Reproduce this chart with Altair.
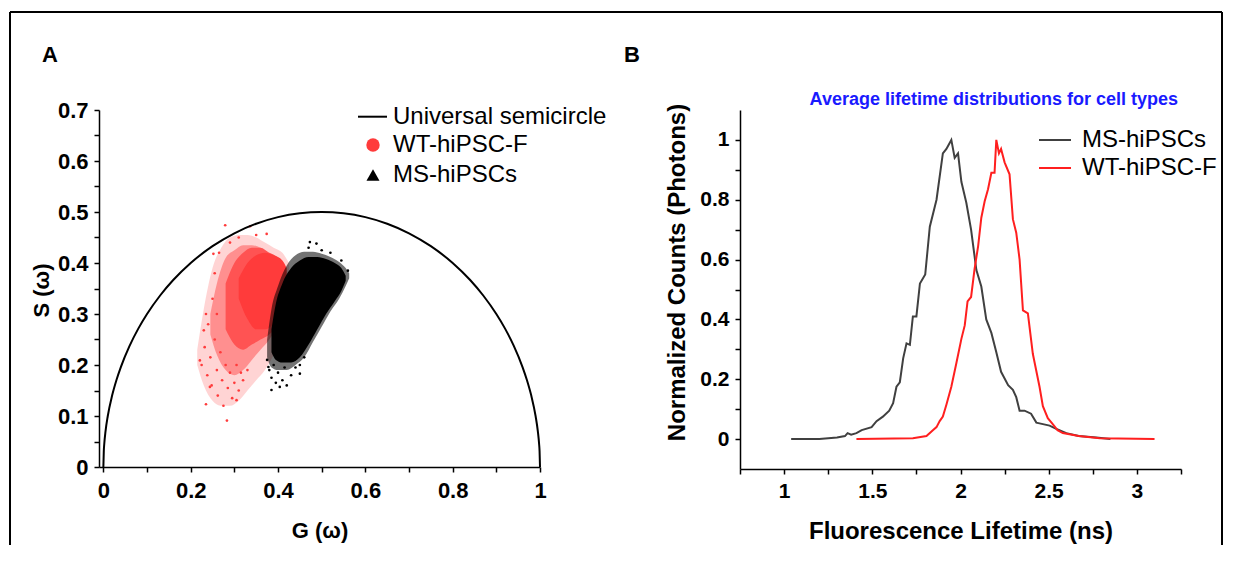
import altair as alt
import pandas as pd

FONT = "Liberation Sans, Arial, Helvetica, sans-serif"

# ---------------- Panel A: phasor plot ----------------
SEMI_G = [0.0, 0.001, 0.002, 0.005, 0.01, 0.02, 0.03, 0.04, 0.06, 0.08, 0.10, 0.13, 0.16, 0.20, 0.25, 0.30, 0.35, 0.40, 0.45, 0.50,
          0.55, 0.60, 0.65, 0.70, 0.75, 0.80, 0.84, 0.87, 0.90, 0.92, 0.94, 0.96, 0.97, 0.98, 0.99, 0.995, 0.998, 0.999, 1.0]
SEMI_S = [0.0, 0.0316, 0.0447, 0.0705, 0.0995, 0.1400, 0.1706, 0.1960, 0.2375, 0.2713, 0.3000, 0.3363, 0.3666, 0.4000, 0.4330, 0.4583, 0.4770, 0.4899, 0.4975, 0.5000,
          0.4975, 0.4899, 0.4770, 0.4583, 0.4330, 0.4000, 0.3666, 0.3363, 0.3000, 0.2713, 0.2375, 0.1960, 0.1706, 0.1400, 0.0995, 0.0705, 0.0447, 0.0316, 0.0]

# WT-hiPSC-F cloud (red): density levels from sparse to dense (G, S-low, S-high)
RED_L1_G = [0.215, 0.23, 0.25, 0.27, 0.29, 0.31, 0.33, 0.35, 0.37, 0.39, 0.41, 0.425]
RED_L1_LO = [0.20, 0.16, 0.13, 0.12, 0.12, 0.13, 0.15, 0.17, 0.19, 0.22, 0.26, 0.30]
RED_L1_HI = [0.23, 0.31, 0.39, 0.43, 0.45, 0.455, 0.455, 0.45, 0.44, 0.43, 0.42, 0.40]

RED_L2_G = [0.245, 0.26, 0.28, 0.30, 0.32, 0.34, 0.36, 0.38, 0.40, 0.415]
RED_L2_LO = [0.26, 0.22, 0.19, 0.18, 0.19, 0.21, 0.23, 0.25, 0.28, 0.31]
RED_L2_HI = [0.30, 0.36, 0.41, 0.425, 0.435, 0.435, 0.43, 0.42, 0.41, 0.39]

RED_L3_G = [0.28, 0.30, 0.32, 0.34, 0.36, 0.38, 0.40, 0.415]
RED_L3_LO = [0.27, 0.24, 0.23, 0.24, 0.25, 0.26, 0.28, 0.31]
RED_L3_HI = [0.36, 0.40, 0.42, 0.43, 0.43, 0.42, 0.41, 0.39]

RED_L4_G = [0.31, 0.33, 0.35, 0.37, 0.39, 0.41, 0.42]
RED_L4_LO = [0.33, 0.29, 0.27, 0.27, 0.28, 0.30, 0.33]
RED_L4_HI = [0.37, 0.40, 0.415, 0.42, 0.415, 0.405, 0.39]

# MS-hiPSCs cloud (black)
BLK_FRINGE_G = [0.375, 0.385, 0.40, 0.42, 0.44, 0.46, 0.48, 0.50, 0.52, 0.54, 0.555, 0.563]
BLK_FRINGE_LO = [0.215, 0.195, 0.19, 0.19, 0.20, 0.215, 0.245, 0.275, 0.305, 0.33, 0.355, 0.37]
BLK_FRINGE_HI = [0.25, 0.31, 0.355, 0.395, 0.415, 0.422, 0.422, 0.418, 0.412, 0.402, 0.39, 0.38]

BLK_CORE_G = [0.385, 0.395, 0.41, 0.43, 0.45, 0.47, 0.49, 0.51, 0.53, 0.545, 0.555]
BLK_CORE_LO = [0.225, 0.21, 0.205, 0.205, 0.215, 0.24, 0.27, 0.30, 0.325, 0.345, 0.365]
BLK_CORE_HI = [0.27, 0.32, 0.36, 0.39, 0.405, 0.412, 0.412, 0.408, 0.40, 0.39, 0.375]

# scattered sparse points around the clouds
RED_PTS_G = [0.279, 0.336, 0.235, 0.283, 0.221, 0.230, 0.252, 0.374, 0.244, 0.305,
             0.225, 0.232, 0.238, 0.245, 0.248, 0.255, 0.260, 0.262, 0.268, 0.272,
             0.275, 0.280, 0.285, 0.290, 0.295, 0.300, 0.305, 0.310, 0.315, 0.320,
             0.330, 0.260, 0.250, 0.255, 0.265, 0.290, 0.310, 0.350, 0.240, 0.235]
RED_PTS_S = [0.474, 0.472, 0.123, 0.091, 0.209, 0.268, 0.418, 0.457, 0.157, 0.131,
             0.200, 0.235, 0.180, 0.215, 0.160, 0.250, 0.190, 0.140, 0.225, 0.170,
             0.120, 0.200, 0.155, 0.185, 0.135, 0.165, 0.200, 0.150, 0.185, 0.170,
             0.190, 0.300, 0.330, 0.380, 0.420, 0.440, 0.450, 0.455, 0.280, 0.300]
BLK_PTS_G = [0.385, 0.404, 0.473, 0.450, 0.488, 0.378,
             0.375, 0.380, 0.385, 0.390, 0.395, 0.400, 0.410, 0.415, 0.420, 0.430,
             0.440, 0.450, 0.460, 0.470, 0.500, 0.520, 0.545, 0.560]
BLK_PTS_S = [0.151, 0.157, 0.441, 0.183, 0.438, 0.196,
             0.210, 0.190, 0.175, 0.200, 0.165, 0.185, 0.170, 0.195, 0.160, 0.180,
             0.195, 0.200, 0.215, 0.430, 0.425, 0.420, 0.405, 0.385]

LEGEND_A = ["Universal semicircle", "WT-hiPSC-F", "MS-hiPSCs"]

A_X_TICKS = [0.0, 0.1, 0.2, 0.3, 0.4, 0.5, 0.6, 0.7, 0.8, 0.9, 1.0]
A_Y_TICKS = [0.0, 0.05, 0.1, 0.15, 0.2, 0.25, 0.3, 0.35, 0.4, 0.45, 0.5, 0.55, 0.6, 0.65, 0.7]

# ---------------- Panel B: lifetime distributions ----------------
MS_T = [1.04, 1.20, 1.30, 1.345, 1.36, 1.38, 1.41, 1.44, 1.496, 1.524, 1.56, 1.596, 1.618, 1.637, 1.656, 1.675, 1.694, 1.713, 1.73, 1.75,
        1.77, 1.80, 1.826, 1.864, 1.90, 1.92, 1.948, 1.967, 1.986, 2.005, 2.033, 2.06, 2.09, 2.118, 2.146, 2.175, 2.203, 2.23, 2.27, 2.297,
        2.316, 2.335, 2.363, 2.40, 2.43, 2.467, 2.505, 2.54, 2.60, 2.67, 2.77, 2.85]
MS_V = [0, 0, 0.005, 0.01, 0.02, 0.015, 0.02, 0.03, 0.04, 0.06, 0.075, 0.095, 0.12, 0.175, 0.19, 0.27, 0.32, 0.315, 0.41, 0.41,
        0.52, 0.55, 0.71, 0.80, 0.955, 0.97, 1.0, 0.94, 0.955, 0.86, 0.79, 0.70, 0.565, 0.51, 0.40, 0.355, 0.29, 0.225, 0.18, 0.165,
        0.14, 0.095, 0.095, 0.085, 0.055, 0.05, 0.045, 0.035, 0.02, 0.01, 0.005, 0]

WT_T = [1.41, 1.73, 1.807, 1.845, 1.864, 1.882, 1.90, 1.92, 1.948, 1.977, 2.005, 2.024, 2.04, 2.06, 2.08, 2.10, 2.118, 2.137, 2.156, 2.175,
        2.193, 2.203, 2.218, 2.23, 2.25, 2.278, 2.297, 2.316, 2.335, 2.354, 2.382, 2.41, 2.448, 2.467, 2.495, 2.523, 2.55, 2.58, 2.67, 2.79, 3.10]
WT_V = [0, 0.003, 0.01, 0.03, 0.04, 0.06, 0.075, 0.115, 0.175, 0.255, 0.335, 0.38, 0.46, 0.475, 0.57, 0.645, 0.74, 0.795, 0.835, 0.89,
        0.89, 1.0, 0.955, 0.97, 0.925, 0.885, 0.735, 0.69, 0.60, 0.43, 0.42, 0.285, 0.175, 0.11, 0.07, 0.05, 0.03, 0.02, 0.01, 0.003, 0]

LEGEND_B = ["MS-hiPSCs", "WT-hiPSC-F"]
B_TITLE = "Average lifetime distributions for cell types"
B_X_TICKS = [0.75, 1.0, 1.25, 1.5, 1.75, 2.0, 2.25, 2.5, 2.75, 3.0, 3.25]
B_Y_TICKS = [0.0, 0.1, 0.2, 0.3, 0.4, 0.5, 0.6, 0.7, 0.8, 0.9, 1.0]

RED = "#ff3b3b"
LINE_RED = "#ff1f1f"
LINE_DARK = "#404040"

# ---------------- Panel A build ----------------
WA, HA = 441, 357
WB, HB = 441, 359

one = pd.DataFrame({"k": [0]})

axA_x = alt.Axis(values=A_X_TICKS, format="~g",
                 labelExpr="round(datum.value*10) % 2 === 0 ? datum.label : ''",
                 title="G (\u03c9)", titleFont=FONT, titleFontSize=22, titleFontWeight="bold", titleColor="black",
                 titleY=63, titleBaseline="middle",
                 labelFont=FONT, labelFontSize=22, labelFontWeight="bold", labelColor="black",
                 labelPadding=8, labelFlush=False, labelOverlap=False,
                 tickSize=5, tickWidth=1.5, tickColor="black", domainColor="black", domainWidth=1.5, grid=False)
axA_y = alt.Axis(values=A_Y_TICKS, format="~g",
                 labelExpr="round(datum.value*20) % 2 === 0 ? datum.label : ''",
                 title="S (\u03c9)", titleFont=FONT, titleFontSize=22, titleFontWeight="bold", titleColor="black",
                 titleX=-58, titleY=180, titleAlign="center", titleBaseline="middle",
                 labelFont=FONT, labelFontSize=22, labelFontWeight="bold", labelColor="black",
                 labelPadding=6, labelFlush=False, labelOverlap=False,
                 tickSize=5, tickWidth=1.5, tickColor="black", domainColor="black", domainWidth=1.5, grid=False)
scA_x = alt.Scale(domain=[-0.01, 1.0], nice=False, zero=False)
scA_y = alt.Scale(domain=[0, 0.7], nice=False, zero=False)


def band_layer(g, lo, hi, color, opacity):
    df = pd.DataFrame({"G": g, "lo": lo, "hi": hi})
    return alt.Chart(df).mark_area(color=color, opacity=opacity, interpolate="monotone").encode(
        x=alt.X("G:Q", scale=scA_x, axis=axA_x),
        y=alt.Y("lo:Q", scale=scA_y, axis=axA_y),
        y2=alt.Y2("hi:Q"),
    )


def pts_layer(g, s, color):
    df = pd.DataFrame({"G": g, "S": s})
    return alt.Chart(df).mark_circle(color=color, size=7, opacity=1).encode(
        x=alt.X("G:Q", scale=scA_x, axis=axA_x),
        y=alt.Y("S:Q", scale=scA_y, axis=axA_y),
    )


semi = alt.Chart(pd.DataFrame({"G": SEMI_G, "S": SEMI_S})).mark_line(
    color="black", strokeWidth=2, interpolate="monotone").encode(
    x=alt.X("G:Q", scale=scA_x, axis=axA_x),
    y=alt.Y("S:Q", scale=scA_y, axis=axA_y),
)

# frame around the figure, panel letters and legend (decoration, pixel placed)
frame_left = alt.Chart(one).mark_rule(color="black", strokeWidth=2).encode(
    x=alt.value(-89), y=alt.value(-98), y2=alt.value(435))
frame_top = alt.Chart(one).mark_rule(color="black", strokeWidth=2).encode(
    x=alt.value(-89), x2=alt.value(1123), y=alt.value(-98))
frame_right = alt.Chart(one).mark_rule(color="black", strokeWidth=2).encode(
    x=alt.value(1123), y=alt.value(-98), y2=alt.value(435))
label_a = alt.Chart(one).mark_text(text="A", font=FONT, fontSize=22, fontWeight="bold", color="black",
                                   align="center", baseline="middle").encode(x=alt.value(-49), y=alt.value(-55))

legA_line = alt.Chart(one).mark_rule(color="black", strokeWidth=2).encode(
    x=alt.value(259), x2=alt.value(288), y=alt.value(6.7))
legA_circle = alt.Chart(one).mark_point(shape="circle", filled=True, color=RED, size=180, opacity=1).encode(
    x=alt.value(274), y=alt.value(35))
legA_tri = alt.Chart(one).mark_point(shape="triangle-up", filled=True, color="black", size=170, opacity=1).encode(
    x=alt.value(274), y=alt.value(65))
legA_texts = [
    alt.Chart(one).mark_text(text=lab, font=FONT, fontSize=24, color="black", align="left", baseline="middle").encode(
        x=alt.value(294), y=alt.value(yy))
    for lab, yy in zip(LEGEND_A, [6.7, 35, 65])
]

panelA = alt.layer(
    band_layer(RED_L1_G, RED_L1_LO, RED_L1_HI, RED, 0.22),
    band_layer(RED_L2_G, RED_L2_LO, RED_L2_HI, RED, 0.45),
    band_layer(RED_L3_G, RED_L3_LO, RED_L3_HI, RED, 0.72),
    band_layer(RED_L4_G, RED_L4_LO, RED_L4_HI, RED, 1.0),
    pts_layer(RED_PTS_G, RED_PTS_S, RED),
    band_layer(BLK_FRINGE_G, BLK_FRINGE_LO, BLK_FRINGE_HI, "black", 0.55),
    band_layer(BLK_CORE_G, BLK_CORE_LO, BLK_CORE_HI, "black", 1.0),
    pts_layer(BLK_PTS_G, BLK_PTS_S, "black"),
    semi,
    frame_left, frame_top, frame_right, label_a,
    legA_line, legA_circle, legA_tri, *legA_texts,
).properties(width=WA, height=HA)

# ---------------- Panel B build ----------------
axB_x = alt.Axis(values=B_X_TICKS, format="~g",
                 labelExpr="round(datum.value*4) % 2 === 0 ? datum.label : ''",
                 title="Fluorescence Lifetime (ns)", titleFont=FONT, titleFontSize=24, titleFontWeight="bold",
                 titleColor="black", titleY=62, titleBaseline="middle",
                 labelFont=FONT, labelFontSize=21, labelFontWeight="bold", labelColor="black",
                 labelPadding=6, labelFlush=False, labelOverlap=False,
                 tickSize=5, tickWidth=1.5, tickColor="black", domainColor="black", domainWidth=1.5, grid=False)
axB_y = alt.Axis(values=B_Y_TICKS, format="~g",
                 labelExpr="round(datum.value*10) % 2 === 0 ? datum.label : ''",
                 title="Normalized Counts (Photons)", titleFont=FONT, titleFontSize=24, titleFontWeight="bold",
                 titleColor="black", titleX=-63, titleY=162, titleAlign="center", titleBaseline="middle",
                 labelFont=FONT, labelFontSize=21, labelFontWeight="bold", labelColor="black",
                 labelPadding=6, labelFlush=False, labelOverlap=False,
                 tickSize=5, tickWidth=1.5, tickColor="black", domainColor="black", domainWidth=1.5, grid=False)
scB_x = alt.Scale(domain=[0.75, 3.25], nice=False, zero=False)
scB_y = alt.Scale(domain=[-0.1, 1.1], nice=False, zero=False)


def curve(t, v, color):
    df = pd.DataFrame({"t": t, "v": v})
    return alt.Chart(df).mark_line(color=color, strokeWidth=2).encode(
        x=alt.X("t:Q", scale=scB_x, axis=axB_x),
        y=alt.Y("v:Q", scale=scB_y, axis=axB_y),
    )


label_b = alt.Chart(one).mark_text(text="B", font=FONT, fontSize=22, fontWeight="bold", color="black",
                                   align="center", baseline="middle").encode(x=alt.value(-108), y=alt.value(-55))
title_b = alt.Chart(one).mark_text(text=B_TITLE, font=FONT, fontSize=18, fontWeight="bold", color="#1a1aff",
                                   align="right", baseline="middle").encode(x=alt.value(438), y=alt.value(-10))
legB = []
for lab, col, yy in zip(LEGEND_B, [LINE_DARK, LINE_RED], [30, 58]):
    legB.append(alt.Chart(one).mark_rule(color=col, strokeWidth=2).encode(
        x=alt.value(299), x2=alt.value(331), y=alt.value(yy)))
    legB.append(alt.Chart(one).mark_text(text=lab, font=FONT, fontSize=24, color="black",
                                         align="left", baseline="middle").encode(x=alt.value(342), y=alt.value(yy)))

panelB = alt.layer(
    curve(MS_T, MS_V, LINE_DARK),
    curve(WT_T, WT_V, LINE_RED),
    label_b, title_b, *legB,
).properties(width=WB, height=HB)

chart = alt.hconcat(panelA, panelB, spacing=200, bounds="flush").properties(
    padding={"left": 1, "top": 3, "right": 0, "bottom": 0}
).configure_view(stroke=None)

chart.save("out.html", embed_options={"renderer": "svg", "actions": False})
